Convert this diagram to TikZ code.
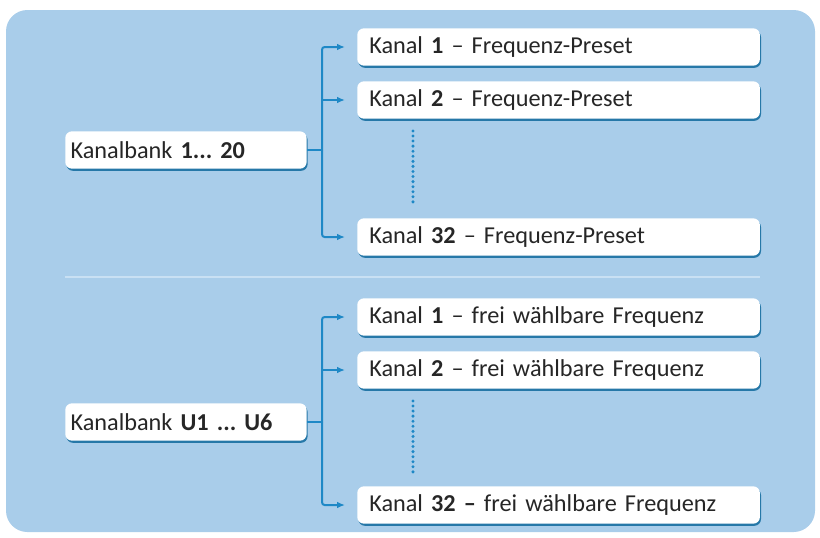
\documentclass[tikz,border=0pt]{standalone}
\usepackage{fontspec}
\setmainfont{Carlito}
\usetikzlibrary{arrows.meta,shadows,calc}
\definecolor{panelblue}{HTML}{A9CDEA}
\definecolor{linkblue}{HTML}{1E88C6}
\definecolor{shadeblue}{HTML}{2678A8}
\definecolor{ruleblue}{HTML}{C9E0F3}

\tikzset{
	box/.style={
		draw=none, fill=white, rounded corners=5pt,
		minimum height=28pt, inner sep=0pt, anchor=west,
		font=\fontsize{18.2}{20}\selectfont\frenchspacing, text=black!85,
		drop shadow={shadow xshift=0.8pt, shadow yshift=-1.6pt,
			fill=shadeblue, opacity=1}
	},
	bankbox/.style={box, minimum width=181pt, text width=177pt, align=left},
	chanbox/.style={box, minimum width=302pt, text width=292pt, align=left},
	spine/.style={draw=linkblue, line width=1.5pt},
	arr/.style={spine, -{Latex[length=6pt,width=5pt]}, shorten >=9pt},
	stub/.style={draw=linkblue, line width=0.8pt},
	dots/.style={draw=linkblue, line width=2.5pt, line cap=round,
		dash pattern=on 0pt off 3.8pt}
}

\begin{document}
\begin{tikzpicture}[x=0.75pt,y=-0.75pt]
	\useasboundingbox (0,0) rectangle (820,537);
	\fill[panelblue,rounded corners=16pt] (6,10) rectangle (815,532);
	\draw[ruleblue,line width=1.2pt] (65,277) -- (760,277);

	% upper group
	\node[bankbox] (bankA) at (65,150) {\hspace*{2pt}Kanalbank \textbf{1... 20}};
	\node[chanbox] (a1) at (357,47) {\hspace*{4pt}Kanal \textbf{1} – Frequenz-Preset};
	\node[chanbox] (a2) at (357,100) {\hspace*{4pt}Kanal \textbf{2} – Frequenz-Preset};
	\node[chanbox] (a32) at (357,237) {\hspace*{4pt}Kanal \textbf{32} – Frequenz-Preset};
	\coordinate (sA) at (322,150);

	\draw[stub] (bankA.east) -- (sA);
	\draw[arr,rounded corners=2pt] (sA) |- (a1.west);
	\draw[arr,rounded corners=2pt] (sA) |- (a32.west);
	\draw[arr] (sA |- a2.west) -- (a2.west);
	\draw[dots] ($(a2.south west)+(56,12)$) -- ($(a32.north west)+(56,-14)$);

	% lower group
	\node[bankbox] (bankB) at (65,422) {\hspace*{2pt}Kanalbank \textbf{U1 ... U6}};
	\node[chanbox] (b1) at (357,317) {\hspace*{4pt}Kanal \textbf{1} – frei wählbare Frequenz};
	\node[chanbox] (b2) at (357,370) {\hspace*{4pt}Kanal \textbf{2} – frei wählbare Frequenz};
	\node[chanbox] (b32) at (357,505) {\hspace*{4pt}Kanal \textbf{32 –} frei wählbare Frequenz};
	\coordinate (sB) at (322,422);

	\draw[stub] (bankB.east) -- (sB);
	\draw[arr,rounded corners=2pt] (sB) |- (b1.west);
	\draw[arr,rounded corners=2pt] (sB) |- (b32.west);
	\draw[arr] (sB |- b2.west) -- (b2.west);
	\draw[dots] ($(b2.south west)+(56,12)$) -- ($(b32.north west)+(56,-14)$);
\end{tikzpicture}
\end{document}
